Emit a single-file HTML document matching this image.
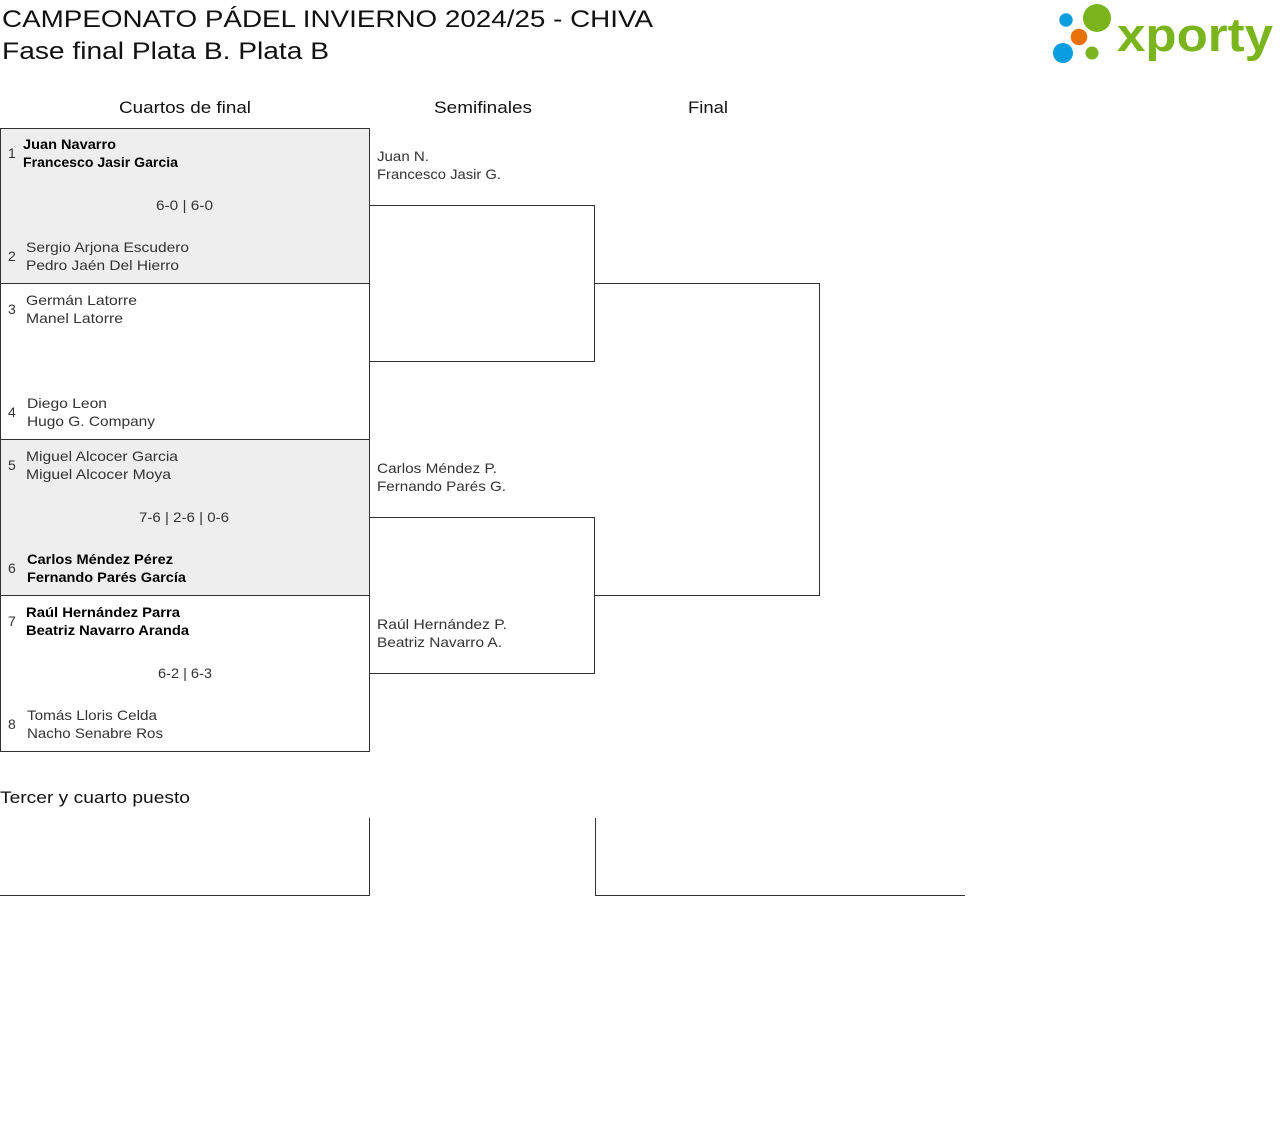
<!DOCTYPE html>
<html>
<head>
<meta charset="utf-8">
<style>
  html, body { margin:0; padding:0; background:#fff; }
  svg { display:block; }
  text { font-family: "Liberation Sans", "DejaVu Sans", sans-serif; }
  .t { fill:#111; font-size:24px; }
  .h { fill:#111; font-size:17px; }
  .n { fill:#333; font-size:14px; }
  .b { fill:#000; font-size:14px; font-weight:bold; }
  .s { fill:#333; font-size:14px; }
  .ln { stroke:#333; stroke-width:1; fill:none; }
</style>
</head>
<body>
<svg width="1280" height="1126" viewBox="0 0 1280 1126" xmlns="http://www.w3.org/2000/svg">
  <!-- Title -->
  <text class="t" x="2" y="27" textLength="651" lengthAdjust="spacingAndGlyphs">CAMPEONATO PÁDEL INVIERNO 2024/25 - CHIVA</text>
  <text class="t" x="2" y="59" textLength="327" lengthAdjust="spacingAndGlyphs">Fase final Plata B. Plata B</text>

  <!-- Logo -->
  <circle cx="1066" cy="20" r="6.7" fill="#0a9de0"/>
  <circle cx="1097" cy="18" r="14" fill="#7ab51d"/>
  <circle cx="1079" cy="37" r="8.3" fill="#e8710a"/>
  <circle cx="1063" cy="53" r="10" fill="#0a9de0"/>
  <circle cx="1092" cy="53" r="6.5" fill="#7ab51d"/>
  <text x="1117" y="51" font-size="47" font-weight="bold" fill="#7ab51d" textLength="156" lengthAdjust="spacingAndGlyphs">xporty</text>

  <!-- Column headings -->
  <text class="h" x="119" y="113" textLength="132" lengthAdjust="spacingAndGlyphs">Cuartos de final</text>
  <text class="h" x="434" y="113" textLength="98" lengthAdjust="spacingAndGlyphs">Semifinales</text>
  <text class="h" x="688" y="113" textLength="40" lengthAdjust="spacingAndGlyphs">Final</text>

  <!-- Quarter box backgrounds -->
  <rect x="0.5" y="128.5" width="369" height="155" fill="#eeeeee"/>
  <rect x="0.5" y="439.5" width="369" height="156" fill="#eeeeee"/>

  <!-- Quarter box lines -->
  <rect class="ln" x="0.5" y="128.5" width="369" height="623"/>
  <line class="ln" x1="0" y1="283.5" x2="370" y2="283.5"/>
  <line class="ln" x1="0" y1="439.5" x2="370" y2="439.5"/>
  <line class="ln" x1="0" y1="595.5" x2="370" y2="595.5"/>

  <!-- Semifinal brackets -->
  <polyline class="ln" points="369.5,205.5 594.5,205.5 594.5,361.5 369.5,361.5"/>
  <polyline class="ln" points="369.5,517.5 594.5,517.5 594.5,673.5 369.5,673.5"/>

  <!-- Final bracket -->
  <polyline class="ln" points="594.5,283.5 819.5,283.5 819.5,595.5 594.5,595.5"/>

  <!-- Match 1 -->
  <text class="s" x="8" y="158">1</text>
  <text class="b" x="23" y="149" textLength="93" lengthAdjust="spacingAndGlyphs">Juan Navarro</text>
  <text class="b" x="23" y="167" textLength="155" lengthAdjust="spacingAndGlyphs">Francesco Jasir Garcia</text>
  <text class="n" x="156" y="210" textLength="57" lengthAdjust="spacingAndGlyphs">6-0 | 6-0</text>
  <text class="s" x="8" y="261">2</text>
  <text class="n" x="26" y="252" textLength="163" lengthAdjust="spacingAndGlyphs">Sergio Arjona Escudero</text>
  <text class="n" x="26" y="270" textLength="153" lengthAdjust="spacingAndGlyphs">Pedro Jaén Del Hierro</text>

  <!-- Match 2 -->
  <text class="s" x="8" y="314">3</text>
  <text class="n" x="26" y="305" textLength="111" lengthAdjust="spacingAndGlyphs">Germán Latorre</text>
  <text class="n" x="26" y="323" textLength="97" lengthAdjust="spacingAndGlyphs">Manel Latorre</text>
  <text class="s" x="8" y="417">4</text>
  <text class="n" x="27" y="408" textLength="80" lengthAdjust="spacingAndGlyphs">Diego Leon</text>
  <text class="n" x="27" y="426" textLength="128" lengthAdjust="spacingAndGlyphs">Hugo G. Company</text>

  <!-- Match 3 -->
  <text class="s" x="8" y="470">5</text>
  <text class="n" x="26" y="461" textLength="152" lengthAdjust="spacingAndGlyphs">Miguel Alcocer Garcia</text>
  <text class="n" x="26" y="479" textLength="145" lengthAdjust="spacingAndGlyphs">Miguel Alcocer Moya</text>
  <text class="n" x="139" y="522" textLength="90" lengthAdjust="spacingAndGlyphs">7-6 | 2-6 | 0-6</text>
  <text class="s" x="8" y="573">6</text>
  <text class="b" x="27" y="564" textLength="146" lengthAdjust="spacingAndGlyphs">Carlos Méndez Pérez</text>
  <text class="b" x="27" y="582" textLength="159" lengthAdjust="spacingAndGlyphs">Fernando Parés García</text>

  <!-- Match 4 -->
  <text class="s" x="8" y="626">7</text>
  <text class="b" x="26" y="617" textLength="154" lengthAdjust="spacingAndGlyphs">Raúl Hernández Parra</text>
  <text class="b" x="26" y="635" textLength="163" lengthAdjust="spacingAndGlyphs">Beatriz Navarro Aranda</text>
  <text class="n" x="158" y="678" textLength="54" lengthAdjust="spacingAndGlyphs">6-2 | 6-3</text>
  <text class="s" x="8" y="729">8</text>
  <text class="n" x="27" y="720" textLength="130" lengthAdjust="spacingAndGlyphs">Tomás Lloris Celda</text>
  <text class="n" x="27" y="738" textLength="136" lengthAdjust="spacingAndGlyphs">Nacho Senabre Ros</text>

  <!-- Semifinal names -->
  <text class="n" x="377" y="161" textLength="52" lengthAdjust="spacingAndGlyphs">Juan N.</text>
  <text class="n" x="377" y="179" textLength="124" lengthAdjust="spacingAndGlyphs">Francesco Jasir G.</text>
  <text class="n" x="377" y="473" textLength="120" lengthAdjust="spacingAndGlyphs">Carlos Méndez P.</text>
  <text class="n" x="377" y="491" textLength="129" lengthAdjust="spacingAndGlyphs">Fernando Parés G.</text>
  <text class="n" x="377" y="629" textLength="130" lengthAdjust="spacingAndGlyphs">Raúl Hernández P.</text>
  <text class="n" x="377" y="647" textLength="125" lengthAdjust="spacingAndGlyphs">Beatriz Navarro A.</text>

  <!-- Tercer y cuarto puesto -->
  <text class="h" x="0" y="803" textLength="190" lengthAdjust="spacingAndGlyphs">Tercer y cuarto puesto</text>
  <polyline class="ln" points="369.5,818 369.5,895.5 0,895.5"/>
  <polyline class="ln" points="595.5,818 595.5,895.5 965,895.5"/>
</svg>
</body>
</html>
